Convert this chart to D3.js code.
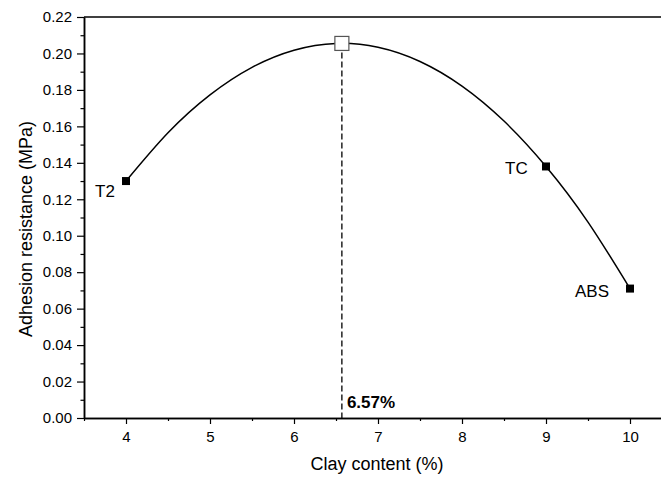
<!DOCTYPE html>
<html>
<head>
<meta charset="utf-8">
<script src="https://cdn.jsdelivr.net/npm/d3@7/dist/d3.min.js"></script>
<style>
  html, body { margin: 0; padding: 0; background: #fff; }
  svg { display: block; font-family: "Liberation Sans", Arial, sans-serif; }
</style>
</head>
<body>
<svg id="chart" width="661" height="477"></svg>
<script>
// Fitted curve of adhesion resistance versus clay content
const curveX = [4, 4.5, 5, 5.5, 6, 6.5, 7, 7.5, 8, 8.5, 9, 9.5, 10];
const curveY = [0.130, 0.1565, 0.1773, 0.1924, 0.2018, 0.2055, 0.2034, 0.1956, 0.1821, 0.1629, 0.138, 0.1075, 0.071];

// Measured mixes
const sampleNames = ["T2", "TC", "ABS"];
const sampleX = [4, 9, 10];
const sampleY = [0.130, 0.138, 0.071];

// Optimum clay content
const optimumX = 6.57;
const optimumY = 0.2055;
const optimumLabel = "6.57%";

// Axis ticks
const xTicks = [4, 5, 6, 7, 8, 9, 10];
const xMinor = [3.5, 4.5, 5.5, 6.5, 7.5, 8.5, 9.5];
const yTicks = [0, 0.02, 0.04, 0.06, 0.08, 0.10, 0.12, 0.14, 0.16, 0.18, 0.20, 0.22];
const yMinor = [0.01, 0.03, 0.05, 0.07, 0.09, 0.11, 0.13, 0.15, 0.17, 0.19, 0.21];

const svg = d3.select("#chart");
const plotLeft = 84, plotTop = 17, plotBottom = 418;
const font = "Liberation Sans, Arial, sans-serif";

const x = d3.scaleLinear().domain([3.5, 10.5]).range([plotLeft, plotLeft + 7 * 84]);
const y = d3.scaleLinear().domain([0, 0.22]).range([plotBottom, plotTop]);

// Frame top edge
svg.append("line")
  .attr("x1", x(3.5)).attr("x2", x(10.5))
  .attr("y1", y(0.22)).attr("y2", y(0.22))
  .attr("stroke", "#000").attr("stroke-width", 1.5);

// X axis
const gx = svg.append("g").attr("transform", `translate(0,${plotBottom})`);
gx.call(d3.axisBottom(x).tickValues(xTicks).tickFormat(d3.format("d")).tickSize(6).tickSizeOuter(0));
gx.append("g").call(d3.axisBottom(x).tickValues(xMinor).tickFormat("").tickSize(3).tickSizeOuter(0));
gx.selectAll("path.domain").attr("stroke-width", 1.5);
gx.selectAll(".tick line").attr("stroke-width", 1.2);
gx.selectAll(".tick text").attr("font-size", 15).attr("font-family", font)
  .attr("y", 13).attr("dy", "0.71em").attr("fill", "#000");

// Y axis
const gy = svg.append("g").attr("transform", `translate(${plotLeft},0)`);
gy.call(d3.axisLeft(y).tickValues(yTicks).tickFormat(d3.format(".2f")).tickSize(7).tickSizeOuter(0));
gy.append("g").call(d3.axisLeft(y).tickValues(yMinor).tickFormat("").tickSize(3.5).tickSizeOuter(0));
gy.selectAll("path.domain").attr("stroke-width", 1.5);
gy.selectAll(".tick line").attr("stroke-width", 1.2);
gy.selectAll(".tick text").attr("font-size", 15).attr("font-family", font)
  .attr("x", -12).attr("fill", "#000");

// Axis titles
svg.append("text")
  .attr("x", 377).attr("y", 470)
  .attr("text-anchor", "middle").attr("font-size", 18)
  .text("Clay content (%)");
svg.append("text")
  .attr("transform", "translate(32,229) rotate(-90)")
  .attr("text-anchor", "middle").attr("font-size", 18)
  .text("Adhesion resistance (MPa)");

// Fitted curve
const curveData = curveX.map((v, i) => [v, curveY[i]]);
svg.append("path")
  .datum(curveData)
  .attr("fill", "none").attr("stroke", "#000").attr("stroke-width", 1.5)
  .attr("d", d3.line().x(d => x(d[0])).y(d => y(d[1])).curve(d3.curveNatural));

// Dashed drop line at the optimum
svg.append("line")
  .attr("x1", x(optimumX)).attr("x2", x(optimumX))
  .attr("y1", y(optimumY)).attr("y2", y(0))
  .attr("stroke", "#000").attr("stroke-width", 1.3)
  .attr("stroke-dasharray", "6,3");

// Optimum marker
svg.append("rect")
  .attr("x", x(optimumX) - 7).attr("y", y(optimumY) - 7)
  .attr("width", 14).attr("height", 14)
  .attr("fill", "#fff").attr("stroke", "#555").attr("stroke-width", 1.2);

svg.append("text")
  .attr("x", x(optimumX) + 5).attr("y", 408)
  .attr("font-size", 17).attr("font-weight", "bold")
  .text(optimumLabel);

// Sample markers and labels
const labelOffsets = {
  T2: { dx: -31, dy: 16 },
  TC: { dx: -41, dy: 7.5 },
  ABS: { dx: -55, dy: 8.5 }
};
sampleNames.forEach((name, i) => {
  const cx = x(sampleX[i]), cy = y(sampleY[i]);
  svg.append("rect")
    .attr("x", cx - 4).attr("y", cy - 4)
    .attr("width", 8).attr("height", 8)
    .attr("fill", "#000");
  svg.append("text")
    .attr("x", cx + labelOffsets[name].dx).attr("y", cy + labelOffsets[name].dy)
    .attr("font-size", 17)
    .text(name);
});
</script>
</body>
</html>
